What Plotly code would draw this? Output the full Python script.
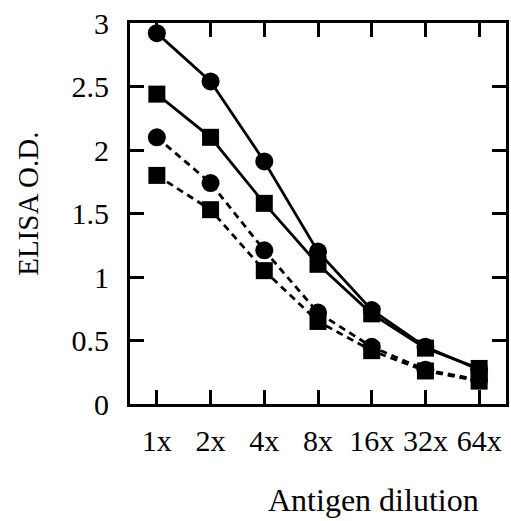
import plotly.graph_objects as go

dilutions = ["1x", "2x", "4x", "8x", "16x", "32x", "64x"]
y_ticks = [0, 0.5, 1, 1.5, 2, 2.5, 3]
y_tick_text = ["0", "0.5", "1", "1.5", "2", "2.5", "3"]

circle_solid = [2.92, 2.54, 1.91, 1.20, 0.74, 0.45, 0.27]
square_solid = [2.44, 2.10, 1.58, 1.10, 0.71, 0.44, 0.28]
circle_dashed = [2.10, 1.74, 1.21, 0.72, 0.45, 0.27, 0.19]
square_dashed = [1.80, 1.53, 1.05, 0.65, 0.42, 0.26, 0.18]

x_pos = list(range(1, len(dilutions) + 1))

series = [
    (circle_solid, "circle", "solid"),
    (square_solid, "square", "solid"),
    (circle_dashed, "circle", "7px,5px"),
    (square_dashed, "square", "7px,5px"),
]

fig = go.Figure()
for vals, sym, dash in series:
    fig.add_trace(go.Scatter(
        x=x_pos, y=vals, mode="lines+markers",
        line=dict(color="black", width=2.8, dash=dash),
        marker=dict(symbol=sym, size=18 if sym == "circle" else 17, color="black",
                    line=dict(width=0)),
        showlegend=False,
    ))

font_family = "Liberation Serif, Times New Roman, serif"

fig.update_layout(
    width=511, height=521,
    margin=dict(l=130, r=2, t=23, b=117),
    paper_bgcolor="white", plot_bgcolor="white",
    font=dict(family=font_family, color="black", size=30),
    xaxis=dict(
        range=[0.5, 7.5], tickvals=x_pos, ticktext=dilutions,
        ticks="inside", ticklen=14, tickwidth=3, tickcolor="black",
        showline=True, linewidth=3, linecolor="black", mirror="ticks",
        showgrid=False, zeroline=False, ticklabelstandoff=8,
        tickfont=dict(size=30),
    ),
    yaxis=dict(
        range=[0, 3], tickvals=y_ticks, ticktext=y_tick_text,
        ticks="inside", ticklen=14, tickwidth=3, tickcolor="black",
        showline=True, linewidth=3, linecolor="black", mirror="ticks",
        showgrid=False, zeroline=False, ticklabelstandoff=12,
        tickfont=dict(size=30),
    ),
    annotations=[
        dict(text="Antigen dilution", xref="paper", yref="paper",
             x=(375 - 130) / 379, y=-(500 - 404) / 381, xanchor="center", yanchor="middle",
             showarrow=False, font=dict(size=32)),
        dict(text="ELISA O.D.", xref="paper", yref="paper",
             x=-(130 - 27) / 379, y=(404 - 204) / 381, xanchor="center", yanchor="middle",
             textangle=-90, showarrow=False, font=dict(size=29)),
    ],
)

fig.write_html("out.html")
